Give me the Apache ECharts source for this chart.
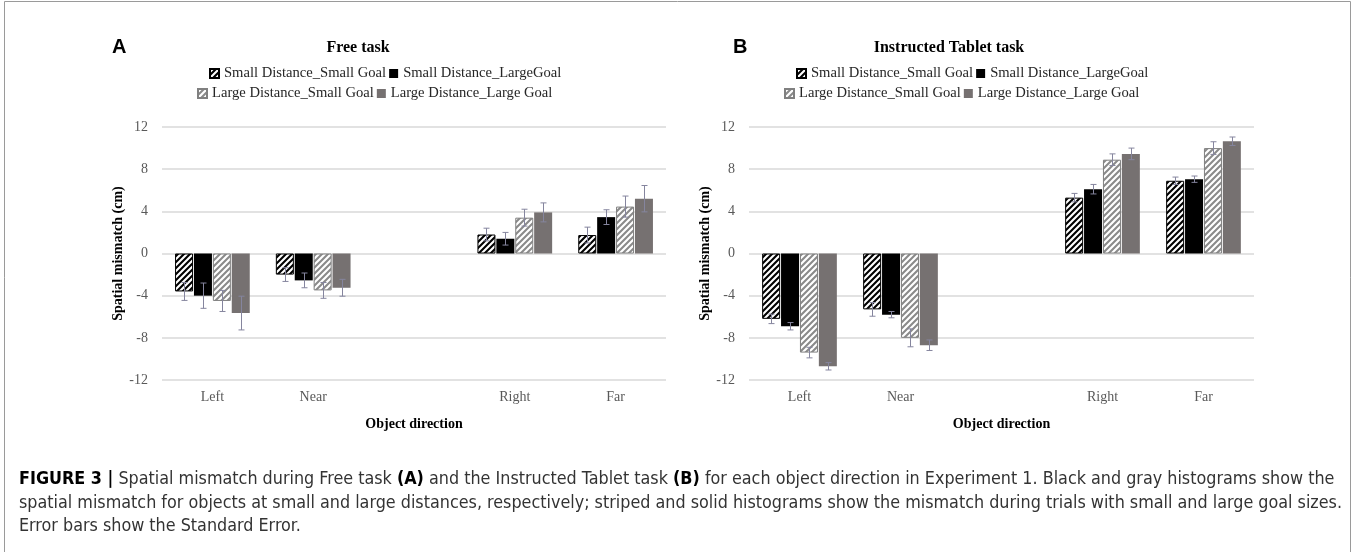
<!DOCTYPE html>
<html>
<head>
<meta charset="utf-8">
<script src="https://cdn.jsdelivr.net/npm/echarts@6/dist/echarts.min.js"></script>
<style>
html,body{margin:0;padding:0;background:#fff;}
#chart{width:1355px;height:552px;}
</style>
</head>
<body>
<div id="chart"></div>
<script>
// ---------- data ----------
const categories = ['Left', 'Near', '', 'Right', 'Far'];
const seriesNames = ['Small Distance_Small Goal', 'Small Distance_LargeGoal', 'Large Distance_Small Goal', 'Large Distance_Large Goal'];
const yTicks = [-12, -8, -4, 0, 4, 8, 12];

// Panel A: Free task (means, standard errors)
const freeSDSG = [-3.6, -2.0, null, 1.8, 1.75];
const freeSDLG = [-4.0, -2.55, null, 1.4, 3.45];
const freeLDSG = [-4.5, -3.5, null, 3.4, 4.45];
const freeLDLG = [-5.65, -3.25, null, 3.9, 5.2];
const freeSDSGse = [0.85, 0.65, null, 0.6, 0.75];
const freeSDLGse = [1.2, 0.7, null, 0.6, 0.7];
const freeLDSGse = [1.0, 0.75, null, 0.8, 1.0];
const freeLDLGse = [1.6, 0.8, null, 0.9, 1.25];

// Panel B: Instructed Tablet task
const instSDSG = [-6.2, -5.3, null, 5.3, 6.9];
const instSDLG = [-6.9, -5.8, null, 6.1, 7.05];
const instLDSG = [-9.4, -8.0, null, 8.9, 10.0];
const instLDLG = [-10.7, -8.7, null, 9.45, 10.65];
const instSDSGse = [0.45, 0.65, null, 0.4, 0.35];
const instSDLGse = [0.35, 0.3, null, 0.45, 0.3];
const instLDSGse = [0.5, 0.85, null, 0.55, 0.6];
const instLDLGse = [0.35, 0.5, null, 0.55, 0.4];

const panelTitles = ['Free task', 'Instructed Tablet task'];
const panelLetters = ['A', 'B'];
const yAxisName = 'Spatial mismatch (cm)';
const xAxisName = 'Object direction';
const captionLines = [
  '{b|FIGURE 3 |} Spatial mismatch during Free task {b|(A)} and the Instructed Tablet task {b|(B)} for each object direction in Experiment 1. Black and gray histograms show the',
  'spatial mismatch for objects at small and large distances, respectively; striped and solid histograms show the mismatch during trials with small and large goal sizes.',
  'Error bars show the Standard Error.'
];

// ---------- styling ----------
const SERIF = '"Liberation Serif", "Times New Roman", serif';
const SANS = '"Liberation Sans", Arial, sans-serif';
const BAR_W = 18;
const BAR_GAP_PCT = 0.05;

function stripe(color) {
  const s = 6;
  const c = document.createElement('canvas');
  c.width = s; c.height = s;
  const g = c.getContext('2d');
  g.fillStyle = '#fff';
  g.fillRect(0, 0, s, s);
  g.strokeStyle = color;
  g.lineWidth = 2.1;
  g.beginPath();
  g.moveTo(-1, 1); g.lineTo(1, -1);
  g.moveTo(0, s); g.lineTo(s, 0);
  g.moveTo(s - 1, s + 1); g.lineTo(s + 1, s - 1);
  g.stroke();
  return c;
}
const blackStripe = { image: stripe('#000000'), repeat: 'repeat' };
const grayStripe = { image: stripe('#8a8a8a'), repeat: 'repeat' };

const itemStyles = [
  { color: blackStripe, borderColor: '#000', borderWidth: 1 },
  { color: '#000000' },
  { color: grayStripe, borderColor: '#808080', borderWidth: 1 },
  { color: '#767171' }
];

const panels = [
  { means: [freeSDSG, freeSDLG, freeLDSG, freeLDLG], ses: [freeSDSGse, freeSDLGse, freeLDSGse, freeLDLGse] },
  { means: [instSDSG, instSDLG, instLDSG, instLDLG], ses: [instSDSGse, instSDLGse, instLDSGse, instLDLGse] }
];

const grids = [
  { left: 162, right: 689, top: 127, bottom: 172 },
  { left: 749, right: 101, top: 127, bottom: 172 }
];

const xAxes = grids.map((g, i) => ({
  type: 'category', gridIndex: i, data: categories,
  axisLine: { show: false }, axisTick: { show: false },
  axisLabel: { fontFamily: SERIF, fontSize: 14, color: '#595959', margin: 10 },
  name: xAxisName, nameLocation: 'middle', nameGap: 37,
  nameTextStyle: { fontFamily: SERIF, fontSize: 14, fontWeight: 'bold', color: '#000' }
}));
const yAxes = grids.map((g, i) => ({
  type: 'value', gridIndex: i, min: yTicks[0], max: yTicks[yTicks.length - 1], interval: 4,
  axisLine: { show: false }, axisTick: { show: false },
  axisLabel: { fontFamily: SERIF, fontSize: 14, color: '#595959', margin: 14 },
  splitLine: { lineStyle: { color: '#d9d9d9', width: 1.5 } },
  name: yAxisName, nameLocation: 'middle', nameGap: 33, nameRotate: 90,
  nameTextStyle: { fontFamily: SERIF, fontSize: 14, fontWeight: 'bold', color: '#000' }
}));

const series = [];
panels.forEach((p, pi) => {
  p.means.forEach((arr, si) => {
    series.push({
      type: 'bar', name: seriesNames[si], xAxisIndex: pi, yAxisIndex: pi,
      data: arr.map(v => (v === null ? '-' : v)),
      barWidth: BAR_W, barGap: (BAR_GAP_PCT * 100) + '%',
      itemStyle: itemStyles[si],
      emphasis: { disabled: true },
      animation: false
    });
  });
  const errData = [];
  p.means.forEach((arr, si) => {
    arr.forEach((v, ci) => {
      if (v !== null) errData.push([ci, v, p.ses[si][ci], si]);
    });
  });
  series.push({
    type: 'custom', xAxisIndex: pi, yAxisIndex: pi, z: 10, animation: false,
    silent: true,
    data: errData,
    encode: { x: 0, y: 1 },
    renderItem: function (params, api) {
      const ci = api.value(0), m = api.value(1), se = api.value(2), si = api.value(3);
      const step = BAR_W * (1 + BAR_GAP_PCT);
      const off = (si - 1.5) * step;
      const hi = api.coord([ci, m + se]);
      const lo = api.coord([ci, m - se]);
      const x = Math.round(hi[0] + off) + 0.5;
      const cap = 3;
      const st = { stroke: '#85859e', lineWidth: 1 };
      return {
        type: 'group',
        children: [
          { type: 'line', shape: { x1: x, y1: hi[1], x2: x, y2: lo[1] }, style: st },
          { type: 'line', shape: { x1: x - cap, y1: hi[1], x2: x + cap, y2: hi[1] }, style: st },
          { type: 'line', shape: { x1: x - cap, y1: lo[1], x2: x + cap, y2: lo[1] }, style: st }
        ]
      };
    }
  });
});

const legendTextStyle = { fontFamily: SERIF, fontSize: 14.6, color: '#262626' };
function mkLegend(names, left, top) {
  return {
    data: names, left: left, top: top, orient: 'horizontal',
    icon: 'rect', itemWidth: 9, itemHeight: 9, itemGap: 3,
    textStyle: legendTextStyle, selectedMode: false, padding: 0
  };
}
const legends = [
  mkLegend(seriesNames.slice(0, 2), 209, 66),
  mkLegend(seriesNames.slice(2, 4), 197, 86),
  mkLegend(seriesNames.slice(0, 2), 796, 66),
  mkLegend(seriesNames.slice(2, 4), 784, 86)
];

const graphic = [
  { type: 'rect', silent: true, z: 100, shape: { x: 4.5, y: 1.5, width: 1346, height: 600 }, style: { fill: 'none', stroke: '#9a9a9a', lineWidth: 1 } },
  { type: 'text', x: 112, y: 47, style: { text: panelLetters[0], font: 'bold 20px ' + SANS, fill: '#000', textVerticalAlign: 'middle' } },
  { type: 'text', x: 733, y: 47, style: { text: panelLetters[1], font: 'bold 20px ' + SANS, fill: '#000', textVerticalAlign: 'middle' } },
  { type: 'text', x: 358, y: 48, style: { text: panelTitles[0], font: 'bold 16px ' + SERIF, fill: '#000', textAlign: 'center', textVerticalAlign: 'middle' } },
  { type: 'text', x: 949, y: 48, style: { text: panelTitles[1], font: 'bold 16px ' + SERIF, fill: '#000', textAlign: 'center', textVerticalAlign: 'middle' } }
];
const capFont = '"Liberation Sans Narrow", "DejaVu Sans Condensed", "Liberation Sans", sans-serif';
const capY = [479, 503, 526];
captionLines.forEach((t, i) => {
  graphic.push({
    type: 'text', x: 19, y: capY[i],
    style: {
      text: t, fontFamily: capFont, fontSize: 17.8, fill: '#333', textVerticalAlign: 'middle',
      rich: { b: { fontFamily: capFont, fontSize: 17.8, fontWeight: 'bold', fill: '#000', color: '#000' } }
    }
  });
});

const chart = echarts.init(document.getElementById('chart'), null, { renderer: 'canvas' });
chart.setOption({
  animation: false,
  backgroundColor: '#fff',
  grid: grids,
  xAxis: xAxes,
  yAxis: yAxes,
  legend: legends,
  series: series,
  graphic: graphic
});
</script>
</body>
</html>
